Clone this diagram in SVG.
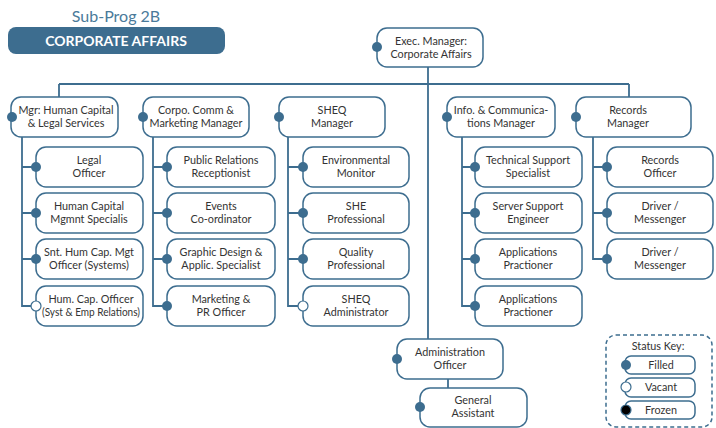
<svg xmlns="http://www.w3.org/2000/svg" width="716" height="428" viewBox="0 0 716 428">
<style>
.box{fill:#fff;stroke:#3d6d8f;stroke-width:1.5}
.ln{fill:none;stroke:#3d6d8f;stroke-width:1.8}
.dot{fill:#3d6d8f}
.vac{fill:#fff;stroke:#3d6d8f;stroke-width:1.2}
.frz{fill:#000;stroke:#3d6d8f;stroke-width:1.2}
text{font-family:Lato,"Open Sans","Liberation Sans",sans-serif;font-size:10.8px;fill:#333;text-anchor:middle}
.key{stroke-dasharray:4 3;fill:none;stroke:#3d6d8f;stroke-width:1.5}
</style>
<rect width="716" height="428" fill="#fff"/>
<text x="116" y="22" style="font-size:16px;fill:#4a7a9a">Sub-Prog 2B</text>
<rect x="8" y="27" width="217" height="27" rx="8" fill="#3d6d8f"/>
<text x="116" y="46" style="font-size:14px;font-weight:bold;fill:#fff">CORPORATE AFFAIRS</text>

<g id="connectors">
<path class="ln" d="M428 67V339M59 84H629M59 84V97M629 84V97"/>
<path class="ln" d="M22 137V306H36M22 167H36M22 213H36M22 259H36"/>
<path class="ln" d="M153 137V306H167M153 167H167M153 213H167M153 259H167"/>
<path class="ln" d="M288 137V306H303M288 167H303M288 213H303M288 259H303"/>
<path class="ln" d="M462 137V306H475M462 167H475M462 213H475M462 259H475"/>
<path class="ln" d="M593 137V259H607M593 167H607M593 213H607"/>
<path class="ln" d="M448 379V388"/>
</g>

<g id="exec"><rect class="box" x="377" y="28" width="106" height="39" rx="10"/><circle class="dot" cx="377" cy="47" r="5"/><text x="431" y="45">Exec. Manager:</text><text x="431" y="58">Corporate Affairs</text></g>

<g id="mgr-hc"><rect class="box" x="11" y="97" width="107" height="40" rx="10"/><circle class="dot" cx="12" cy="117" r="5"/><text x="66" y="114">Mgr: Human Capital</text><text x="66" y="127">&amp; Legal Services</text></g>
<g id="corpo"><rect class="box" x="143" y="97" width="106" height="40" rx="10"/><circle class="dot" cx="143" cy="117" r="5"/><text x="196" y="114">Corpo. Comm &amp;</text><text x="196" y="127">Marketing Manager</text></g>
<g id="sheq"><rect class="box" x="279" y="97" width="106" height="40" rx="10"/><circle class="dot" cx="279" cy="117" r="5"/><text x="332" y="114">SHEQ</text><text x="332" y="127">Manager</text></g>
<g id="info"><rect class="box" x="447" y="97" width="108" height="40" rx="10"/><circle class="dot" cx="447" cy="117" r="5"/><text x="501" y="114">Info. &amp; Communica-</text><text x="501" y="127">tions Manager</text></g>
<g id="records"><rect class="box" x="576" y="97" width="115" height="40" rx="10"/><circle class="dot" cx="576" cy="117" r="5"/><text x="628" y="114">Records</text><text x="628" y="127">Manager</text></g>

<g id="legal"><rect class="box" x="36" y="147" width="107" height="40" rx="10"/><circle class="dot" cx="36" cy="167" r="5"/><text x="89" y="164">Legal</text><text x="89" y="177">Officer</text></g>
<g id="hcms"><rect class="box" x="36" y="193" width="107" height="40" rx="10"/><circle class="dot" cx="36" cy="213" r="5"/><text x="89" y="210">Human Capital</text><text x="89" y="223">Mgmnt Specialis</text></g>
<g id="snt"><rect class="box" x="36" y="239" width="107" height="40" rx="10"/><circle class="dot" cx="36" cy="259" r="5"/><text x="89" y="256">Snt. Hum Cap. Mgt</text><text x="89" y="269">Officer (Systems)</text></g>
<g id="hco"><rect class="box" x="36" y="286" width="107" height="40" rx="10"/><circle class="vac" cx="36" cy="306" r="5"/><text x="91" y="303">Hum. Cap. Officer</text><text x="91" y="316" textLength="98" lengthAdjust="spacingAndGlyphs">(Syst &amp; Emp Relations)</text></g>

<g id="pr"><rect class="box" x="167" y="147" width="108" height="40" rx="10"/><circle class="dot" cx="167" cy="167" r="5"/><text x="221" y="164">Public Relations</text><text x="221" y="177">Receptionist</text></g>
<g id="events"><rect class="box" x="167" y="193" width="108" height="40" rx="10"/><circle class="dot" cx="167" cy="213" r="5"/><text x="221" y="210">Events</text><text x="221" y="223">Co-ordinator</text></g>
<g id="graphic"><rect class="box" x="167" y="239" width="108" height="40" rx="10"/><circle class="dot" cx="167" cy="259" r="5"/><text x="221" y="256">Graphic Design &amp;</text><text x="221" y="269">Applic. Specialist</text></g>
<g id="marketing"><rect class="box" x="167" y="286" width="108" height="40" rx="10"/><circle class="dot" cx="167" cy="306" r="5"/><text x="221" y="303">Marketing &amp;</text><text x="221" y="316">PR Officer</text></g>

<g id="env"><rect class="box" x="303" y="147" width="106" height="40" rx="10"/><circle class="dot" cx="303" cy="167" r="5"/><text x="356" y="164">Environmental</text><text x="356" y="177">Monitor</text></g>
<g id="she"><rect class="box" x="303" y="193" width="106" height="40" rx="10"/><circle class="dot" cx="303" cy="213" r="5"/><text x="356" y="210">SHE</text><text x="356" y="223">Professional</text></g>
<g id="quality"><rect class="box" x="303" y="239" width="106" height="40" rx="10"/><circle class="dot" cx="303" cy="259" r="5"/><text x="356" y="256">Quality</text><text x="356" y="269">Professional</text></g>
<g id="sheqadmin"><rect class="box" x="303" y="286" width="106" height="40" rx="10"/><circle class="vac" cx="303" cy="306" r="5"/><text x="356" y="303">SHEQ</text><text x="356" y="316">Administrator</text></g>

<g id="tech"><rect class="box" x="475" y="147" width="107" height="40" rx="10"/><circle class="dot" cx="475" cy="167" r="5"/><text x="528" y="164">Technical Support</text><text x="528" y="177">Specialist</text></g>
<g id="server"><rect class="box" x="475" y="193" width="107" height="40" rx="10"/><circle class="dot" cx="475" cy="213" r="5"/><text x="528" y="210">Server Support</text><text x="528" y="223">Engineer</text></g>
<g id="app1"><rect class="box" x="475" y="239" width="107" height="40" rx="10"/><circle class="dot" cx="475" cy="259" r="5"/><text x="528" y="256">Applications</text><text x="528" y="269">Practioner</text></g>
<g id="app2"><rect class="box" x="475" y="286" width="107" height="40" rx="10"/><circle class="dot" cx="475" cy="306" r="5"/><text x="528" y="303">Applications</text><text x="528" y="316">Practioner</text></g>

<g id="recoff"><rect class="box" x="607" y="147" width="106" height="40" rx="10"/><circle class="dot" cx="607" cy="167" r="5"/><text x="660" y="164">Records</text><text x="660" y="177">Officer</text></g>
<g id="driver1"><rect class="box" x="607" y="193" width="106" height="40" rx="10"/><circle class="dot" cx="607" cy="213" r="5"/><text x="660" y="210">Driver /</text><text x="660" y="223">Messenger</text></g>
<g id="driver2"><rect class="box" x="607" y="239" width="106" height="40" rx="10"/><circle class="dot" cx="607" cy="259" r="5"/><text x="660" y="256">Driver /</text><text x="660" y="269">Messenger</text></g>

<g id="admin"><rect class="box" x="397" y="339" width="106" height="40" rx="10"/><circle class="dot" cx="397" cy="359" r="5"/><text x="450" y="356">Administration</text><text x="450" y="369">Officer</text></g>
<g id="general"><rect class="box" x="420" y="388" width="107" height="39" rx="10"/><circle class="dot" cx="420" cy="407" r="5"/><text x="473" y="404">General</text><text x="473" y="417">Assistant</text></g>

<g id="status-key">
<rect class="key" x="606" y="335" width="106" height="92" rx="10"/>
<text x="658" y="350">Status Key:</text>
<rect class="box" x="625" y="356" width="70" height="18" rx="6"/><circle class="dot" cx="626" cy="365" r="5"/><text x="661" y="369">Filled</text>
<rect class="box" x="625" y="378" width="70" height="19" rx="6"/><circle class="vac" cx="626" cy="387" r="5"/><text x="661" y="391">Vacant</text>
<rect class="box" x="625" y="401" width="70" height="18" rx="6"/><circle class="frz" cx="626" cy="410" r="5"/><text x="661" y="414">Frozen</text>
</g>
</svg>
